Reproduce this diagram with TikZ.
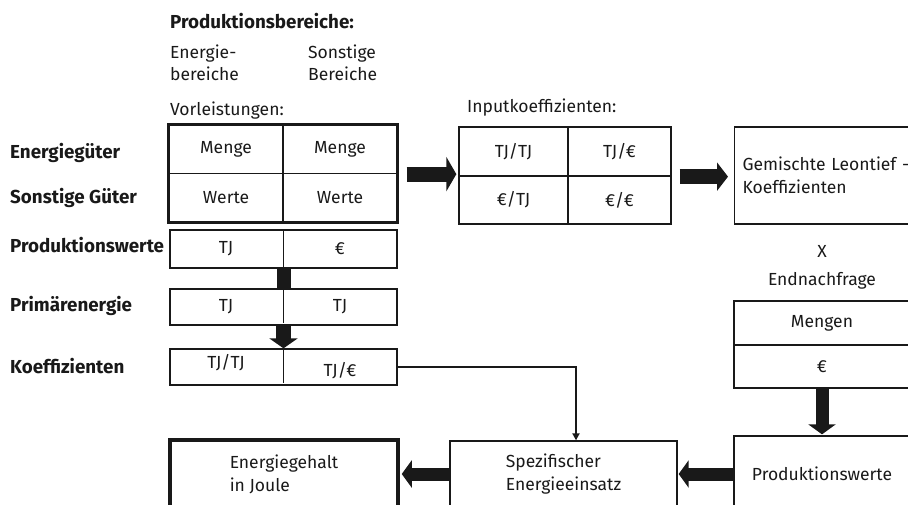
\documentclass[tikz,border=0pt]{standalone}
\usepackage{fontspec}
\setmainfont{Fira Sans}
\usetikzlibrary{arrows.meta,calc}
\begin{document}
\begin{tikzpicture}[x=1pt,y=-1pt,
  every node/.style={font=\fontsize{17.5}{23}\selectfont, inner sep=0pt, text=black!90},
  lbl/.style={font=\fontsize{18.8}{23}\selectfont\bfseries, anchor=base west},
  txt/.style={anchor=base west},
  cell/.style={draw=black!90, line width=1.3pt},
  frame/.style={draw=black!90, line width=1.3pt},
  thickrule/.style={draw=black!90, line width=3.5pt},
  blockarrow/.style={draw=black!90, line width=15pt, -{Triangle[length=10pt,width=30pt]}},
  conn/.style={draw=black!90, line width=2pt, -{Triangle[length=7pt,width=7pt]}}
]
\useasboundingbox (0,0) rectangle (908,505);
\clip (0,0) rectangle (908,505);

% header texts
\node[lbl] (hdr) at (170,29) {Produktionsbereiche:};
\node[txt, align=left, anchor=north west, font=\fontsize{17.5}{22}\selectfont] (eb) at (170,45) {Energie-\\bereiche};
\node[txt, align=left, anchor=north west, font=\fontsize{17.5}{22}\selectfont] (sb) at (308,45) {Sonstige\\Bereiche};
\node[txt] (vl) at (170,116) {Vorleistungen:};
\node[txt] (ikl) at (467,113) {Inputkoeffizienten:};

% row labels
\node[lbl] (l1) at (10,159) {Energiegüter};
\node[lbl] (l2) at (10,204) {Sonstige Güter};
\node[lbl] (l3) at (10,253) {Produktionswerte};
\node[lbl] (l4) at (10,312) {Primärenergie};
\node[lbl] (l5) at (10,373) {Koeffizienten};

% Vorleistungen table
\node[cell, minimum width=114pt, minimum height=48.5pt] (v11) at (226,149.25) {Menge};
\node[cell, minimum width=114pt, minimum height=48.5pt] (v12) at (340,149.25) {Menge};
\node[cell, minimum width=114pt, minimum height=48.5pt] (v21) at (226,197.75) {Werte};
\node[cell, minimum width=114pt, minimum height=48.5pt] (v22) at (340,197.75) {Werte};
\draw[thickrule] (v11.north west) rectangle (v22.south east);

% Produktionswerte row
\node[frame, minimum width=227pt, minimum height=38pt] (pw) at (283.5,249) {};
\node (pw1) at (226,249) {TJ};
\node (pw2) at (340,249) {€};
\draw[cell] (pw.north) -- (pw.south);

% Primaerenergie row
\node[frame, minimum width=227pt, minimum height=36pt] (pe) at (283.5,307) {};
\node (pe1) at (226,307) {TJ};
\node (pe2) at (340,307) {TJ};
\draw[cell] (pe.north) -- ([yshift=3pt]pe.south);

% Koeffizienten row
\node[frame, minimum width=227pt, minimum height=36pt] (ko) at (283.5,367) {};
\node (ko1) at (226,363) {TJ/TJ};
\node (ko2) at (340,371) {TJ/€};
\draw[cell] (ko.north) -- ([yshift=3pt]ko.south);

% connectors in the left column
\draw[draw=black!90, line width=14pt] (pw.south) -- (pe.north);
\draw[blockarrow, -{Triangle[length=10pt,width=28pt]}] (pe.south) -- (ko.north);

% Inputkoeffizienten table
\node[cell, minimum width=109pt, minimum height=49pt] (i11) at (513.5,151.5) {TJ/TJ};
\node[cell, minimum width=103pt, minimum height=49pt] (i12) at (619.5,151.5) {TJ/€};
\node[cell, minimum width=109pt, minimum height=48pt] (i21) at (513.5,200) {€/TJ};
\node[cell, minimum width=103pt, minimum height=48pt] (i22) at (619.5,200) {€/€};

% Gemischte Leontief
\node[frame, anchor=west, minimum height=97pt, text width=185pt, align=left, inner xsep=8pt] (gl) at (734,175.5) {Gemischte Leontief -\\Koeffizienten};

% Endnachfrage
\node[txt, anchor=base] (x) at (822,258) {X};
\node[txt, anchor=base] (enl) at (822,286) {Endnachfrage};
\node[cell, minimum width=176pt, minimum height=44pt] (e1) at (822,323) {Mengen};
\node[cell, minimum width=176pt, minimum height=43pt] (e2) at (822,366.5) {€};

% bottom row
\node[frame, minimum width=176pt, minimum height=76pt] (pr) at (822,474) {Produktionswerte};
\node[frame, minimum width=227pt, minimum height=66pt, align=left] (sp) at (563.5,474) {Spezifischer\\Energieeinsatz};
\node[thickrule, minimum width=228pt, minimum height=68pt, align=left] (eg) at (284,474) {Energiegehalt\\in Joule};

% block arrows
\draw[blockarrow, -{Triangle[length=10pt,width=34pt]}] ([xshift=9pt]v12.south east) -- ([xshift=-2pt]v12.south east -| i11.west);
\draw[blockarrow, -{Triangle[length=11pt,width=28pt]}] ([xshift=8pt]i12.south east) -- ([xshift=-6pt]i12.south east -| gl.west);
\draw[blockarrow, line width=13pt, -{Triangle[length=10pt,width=27pt]}] (e2.south) -- ([yshift=1pt]pr.north);
\draw[blockarrow, line width=13pt, -{Triangle[length=10pt,width=27pt]}] (pr.west) -- ([xshift=1pt]sp.east);
\draw[blockarrow, line width=13pt, -{Triangle[length=10pt,width=27pt]}] (sp.west) -- ([xshift=2pt]eg.east);

% thin connector
\draw[conn] (ko.east) -| ([xshift=12.5pt]sp.north);
\end{tikzpicture}
\end{document}
